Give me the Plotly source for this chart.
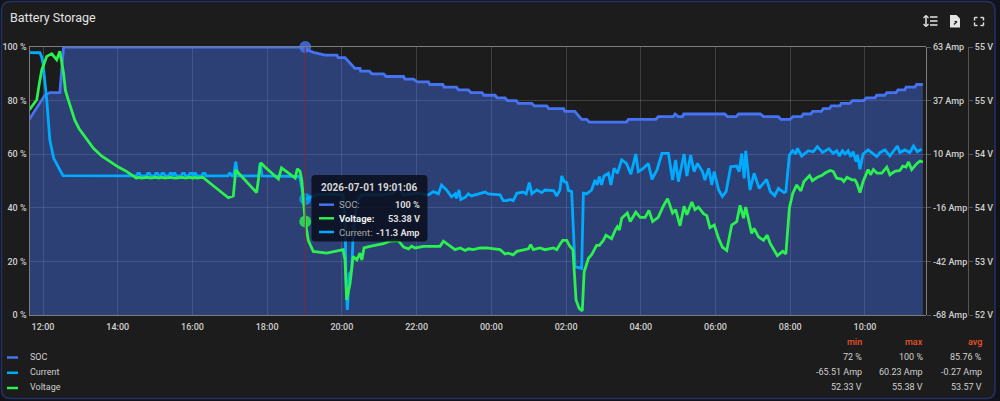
import pandas as pd
import plotly.graph_objects as go

W, H = 1000, 401
BASE = pd.Timestamp("2026-07-01 12:00:00")

# Each series: minutes after 12:00 on the first day, then the reading at that minute.
soc_minutes = [-22, -8, 3, 11, 27, 33, 421, 424, 434, 453, 472, 474, 485, 501, 509, 510, 524, 528, 547, 551, 579, 581,
               595, 601, 619, 621, 642, 644, 664, 667, 683, 687, 705, 708, 726, 729, 742, 746, 760, 763, 785, 789,
               809, 812, 836, 838, 854, 865, 873, 877, 937, 940, 984, 988, 1012, 1015, 1020, 1027, 1029, 1095, 1099,
               1113, 1117, 1152, 1157, 1181, 1185, 1200, 1204, 1218, 1221, 1233, 1236, 1250, 1253, 1263, 1266, 1280,
               1282, 1296, 1300, 1318, 1322, 1336, 1339, 1352, 1355, 1370, 1373, 1384, 1386, 1400, 1403, 1413]
soc_values = [73, 78, 82, 83, 83, 100, 100, 99, 98, 97, 97, 96, 96, 92, 92, 91, 91, 90, 90, 89, 89, 88,
              88, 87, 87, 86, 86, 85, 85, 84, 84, 83, 83, 82, 82, 81, 81, 80, 80, 79, 79, 78,
              78, 77, 77, 76, 76, 73, 73, 72, 72, 73, 73, 74, 74, 75, 74, 74, 75, 75, 74,
              74, 75, 75, 74, 74, 73, 73, 74, 74, 75, 75, 76, 76, 77, 77, 78, 78,
              79, 79, 80, 80, 81, 81, 82, 82, 83, 83, 84, 84, 85, 85, 86, 86]

current_minutes = [-22, -5, -2, 0, 6, 11, 17, 23, 27, 32, 150, 152, 155, 157, 166, 168, 171, 173, 179, 181, 184, 186,
                   189, 191, 194, 196, 202, 204, 206, 208, 210, 212, 214, 222, 224, 227, 229, 234, 236, 239, 241, 243,
                   245, 247, 255, 257, 260, 262, 297, 300, 303, 306, 309.5, 313, 346, 348.5, 352, 411,
                   412.7, 418, 421.1, 439, 461, 482, 485, 486.6, 488.7, 492, 495.7, 498, 501, 505, 512, 546, 562, 573,
                   578, 600, 619, 627, 635, 640, 648, 656, 662, 664, 668, 671, 678, 683, 688, 699, 710, 715, 734,
                   739, 745, 750, 755, 761, 771, 776, 781, 785, 793, 801, 806, 820, 825, 830, 833, 837, 841, 844,
                   849, 854.4, 865, 867.8, 873, 881, 886.5, 890, 893.5, 897, 901, 908, 912, 917, 922.4, 929.3, 937,
                   944, 952, 956, 964, 972, 978, 986, 994, 1004.3, 1011, 1016, 1020.3, 1029.5, 1034, 1040, 1045.5,
                   1051, 1059, 1063, 1069, 1074, 1078, 1085, 1091, 1097, 1104.4, 1114, 1118, 1122, 1126, 1128.5,
                   1135.4, 1142, 1150, 1162, 1168, 1175, 1181, 1190, 1193, 1198.6, 1204, 1209, 1211.4, 1218.4, 1224,
                   1229, 1237, 1243.6, 1252, 1262, 1269, 1274.6, 1279, 1283.7, 1288, 1293, 1297, 1301, 1305.6, 1308,
                   1312, 1317, 1325, 1333.5, 1339, 1344, 1352, 1360, 1367, 1372, 1376, 1384, 1392, 1398, 1404, 1411]
current_values = [60.23, 60.2, 58, 55, 37, 17.5, 8.7, 5, 2.9, 0.1, 0, 1.2, 1.2, 0, 0, 1.2, 1.2, 0, 0, 1.2, 1.2, 0,
                  0, 1.2, 1.2, 0, 0, 1.2, 1.2, 0, 1.2, 1.2, 0, 0, 1.2, 1.2, 0, 0, 1.2, 1.2, 0, 1.2,
                  1.2, 0, 0, 1.2, 1.2, 0, 0, 1.6, 0, 0, 6.9, 0, 0, 6.4, 0, -0.3,
                  -1.2, -10.2, -11.3, -9.3, -8.9, -9.3, -20, -49.2, -65.51, -48, -46, -29.7, -20, -11.8, -9.3, -9.3, -8.5, -3.6,
                  -9.3, -8.5, -9.3, -7.7, -8.8, -4.5, -6.9, -10.2, -8.8, -11, -6.9, -11.5, -10.5, -8.8, -9.8, -8.8, -7.9, -8.8, -9.3,
                  -12.1, -12.1, -11.5, -12.1, -8.5, -7.9, -8.8, -3.3, -8.8, -6.9, -8.2, -6.9, -7.2, -9.8, -6.9, -0.05, -2.8, -3.3, -7.2,
                  -7.7, -44.4, -45.2, -8.5, -8.8, -6.9, -2, -4.4, -0.4, -4.4, -0.05, 1.3, -4.4, 3.7, 1.3, 7.8, 6.1,
                  0.8, 10.7, 2.1, 3.7, 6.1, -1.7, 2.9, 11, 11, -2, 7.8, -2.8, 10.7, -0.05, 10.2, 2.1,
                  6.1, 2.1, -2, 3.7, -4.4, 2.1, -6.9, -10.1, -7.7, 4.5, 4.8, 2.1, 11, -1.2, 12.3,
                  -6.9, 1.3, -6.1, -1.7, -7.7, -9.7, -6.1, -8.2, -7.7, 10.2, 12.3, 10.7, 13.5, 9.7, 11,
                  12.3, 11.8, 14.3, 11.4, 13.3, 11, 12.3, 9.7, 12.3, 10.7, 12.3, 9.4, 11.8, 7, 10.2,
                  3.2, 10.7, 12.7, 10.7, 9.4, 11.4, 12.7, 9.7, 12.3, 14.6, 11.4, 12.7, 11.4, 14.6, 11.8, 13]

voltage_minutes = [-22, -10, -6, -2, 6, 14, 22, 27, 33, 36, 40.6, 46, 51, 58, 65, 73, 81, 94, 108, 121, 134, 150, 153, 158, 168, 173, 181,
                   186, 191, 196, 204, 212, 224, 229, 236, 241, 243, 247, 257, 260, 297.6, 305.6, 309.5, 343, 349.6,
                   356.5, 378, 383, 405, 408.4, 412.7, 415.5, 421.1, 426, 434, 455.5, 482, 485, 487.6, 493, 498, 504,
                   509, 512, 515.5, 525, 546.6, 557, 570.7, 579, 587, 592, 597.4, 611, 621.5, 637.6, 643, 653.6,
                   661.7, 670, 678, 683, 691, 702, 712.5, 734, 742, 747, 755, 761, 771, 779.5, 783, 787.5, 798, 806,
                   820, 825, 830, 834.6, 841, 846, 851, 856, 861, 866, 869, 876, 881, 889, 893.5, 900, 904, 913, 919,
                   922.4, 925.6, 929.3, 938.4, 943, 952, 959, 967, 973, 979, 988, 996, 1003, 1011, 1016, 1023, 1029.5,
                   1034, 1042, 1047, 1052.5, 1061, 1066, 1071, 1078, 1085, 1091, 1098, 1106, 1114, 1119.4, 1125,
                   1128.5, 1138, 1142, 1149, 1157, 1163, 1168, 1179.3, 1188, 1193, 1198.6, 1204, 1210.4, 1217, 1222,
                   1231, 1235.5, 1243.6, 1250.5, 1256, 1264, 1269, 1274.6, 1282.6, 1286, 1291, 1299, 1304, 1307, 1312,
                   1317, 1325, 1329, 1333.5, 1339, 1347, 1355, 1360, 1368, 1376, 1380.6, 1386, 1390, 1395, 1403, 1408.4, 1413]
voltage_values = [54.69, 54.81, 55.0, 55.16, 55.32, 55.35, 55.28, 55.38, 55.12, 54.92, 54.81, 54.67, 54.57, 54.47, 54.40, 54.31, 54.24, 54.15, 54.08, 54.02, 53.97, 53.89, 53.90, 53.89, 53.90, 53.89, 53.90,
                  53.89, 53.90, 53.89, 53.90, 53.89, 53.90, 53.89, 53.90, 53.89, 53.90, 53.89, 53.90, 53.88, 53.66, 53.68, 53.985, 53.72, 54.07,
                  54.02, 53.88, 54.01, 53.89, 54.0, 53.97, 53.87, 53.38, 53.16, 53.03, 53.01, 53.05, 52.93, 52.46, 52.65, 52.97, 52.93,
                  53.01, 52.93, 53.07, 53.09, 53.12, 53.15, 53.156, 53.08, 53.06, 53.09, 53.07, 53.09, 53.09, 53.09, 53.15, 53.09,
                  53.05, 53.07, 53.04, 53.06, 53.05, 53.07, 53.07, 53.05, 53.0, 53.01, 52.99, 53.03, 53.05, 53.06, 53.11, 53.05, 53.07, 53.05,
                  53.07, 53.05, 53.11, 53.16, 53.16, 53.09, 53.05, 52.46, 52.36, 52.33, 52.79, 52.95, 52.99, 53.1, 53.1, 53.16, 53.22, 53.18, 53.28,
                  53.32, 53.28, 53.42, 53.48, 53.38, 53.49, 53.43, 53.43, 53.51, 53.38, 53.43, 53.56, 53.65, 53.48, 53.52, 53.33, 53.56,
                  53.46, 53.61, 53.52, 53.55, 53.47, 53.45, 53.31, 53.34, 53.18, 53.08, 53.04, 53.34, 53.38, 53.57, 53.42,
                  53.55, 53.24, 53.3, 53.2, 53.16, 53.22, 53.12, 52.98, 53.03, 53.0, 53.54, 53.71, 53.81, 53.74, 53.85,
                  53.92, 53.86, 53.9, 53.92, 53.95, 53.98, 53.97, 53.89, 53.88, 53.85, 53.9, 53.87, 53.87, 53.83, 53.72,
                  53.85, 53.99, 53.93, 53.99, 53.95, 53.95, 54.02, 53.93, 53.97, 53.98, 54.03, 54.02, 54.08, 53.99, 54.06, 54.09, 54.08]

hour_ticks = [0, 120, 240, 360, 480, 600, 720, 840, 960, 1080, 1200, 1320]
soc_ticks = [0, 20, 40, 60, 80, 100]
soc_tick_text = ["0 %", "20 %", "40 %", "60 %", "80 %", "100 %"]
current_ticks = [-68, -41.8, -15.6, 10.6, 36.8, 63]
current_tick_text = ["-68 Amp", "-42 Amp", "-16 Amp", "10 Amp", "37 Amp", "63 Amp"]
voltage_ticks = [52.283, 52.912, 53.541, 54.171, 54.8, 55.43]
voltage_tick_text = ["52 V", "53 V", "54 V", "54 V", "55 V", "55 V"]

hover_minute = 421.1
hover_soc, hover_voltage, hover_current = 100, 53.38, -11.3

table_rows = [
    ("SOC", "72 %", "100 %", "85.76 %"),
    ("Current", "-65.51 Amp", "60.23 Amp", "-0.27 Amp"),
    ("Voltage", "52.33 V", "55.38 V", "53.57 V"),
]

SOC_COLOR = "#4573f2"
CURRENT_COLOR = "#00aaff"
VOLTAGE_COLOR = "#2bf04f"
TEXT = "#cfcfcf"
FONT = "Roboto"
LINE_WIDTH = 2.8


def stamp(minutes):
    return [(BASE + pd.Timedelta(minutes=float(m))).isoformat() for m in minutes]


def px(x):
    return x / W


def py(y):
    return 1 - y / H


def seg(x0, y0, x1, y1, color, width=1):
    return dict(type="line", xref="paper", yref="paper", x0=px(x0), x1=px(x1), y0=py(y0), y1=py(y1),
                line=dict(color=color, width=width), layer="above")


def poly(cmds):
    out = []
    for c in cmds:
        nums = []
        for i in range(1, len(c), 2):
            nums.append(f"{px(c[i]):.5f},{py(c[i + 1]):.5f}")
        out.append(c[0] + " ".join(nums))
    return " ".join(out)


def rounded(x0, y0, x1, y1, r):
    pts = [("M", x0 + r, y0), ("L", x1 - r, y0), ("Q", x1, y0, x1, y0 + r), ("L", x1, y1 - r),
           ("Q", x1, y1, x1 - r, y1), ("L", x0 + r, y1), ("Q", x0, y1, x0, y1 - r), ("L", x0, y0 + r),
           ("Q", x0, y0, x0 + r, y0)]
    return poly(pts) + " Z"


def label(x, y, text, size=9, color=TEXT, anchor="left", weight=400):
    return dict(xref="paper", yref="paper", x=px(x), y=py(y), text=text, showarrow=False, xanchor=anchor,
                yanchor="middle", align=anchor, borderpad=0,
                font=dict(family=FONT, size=size, color=color, weight=weight))


fig = go.Figure()
fig.add_trace(go.Scatter(name="SOC", x=stamp(soc_minutes), y=soc_values, mode="lines", fill="tozeroy",
                         fillcolor="rgba(69,115,240,0.42)", line=dict(color=SOC_COLOR, width=LINE_WIDTH),
                         hoverinfo="skip", yaxis="y"))
fig.add_trace(go.Scatter(name="Current", x=stamp(current_minutes), y=current_values, mode="lines",
                         line=dict(color=CURRENT_COLOR, width=LINE_WIDTH), hoverinfo="skip", yaxis="y2"))
fig.add_trace(go.Scatter(name="Voltage", x=stamp(voltage_minutes), y=voltage_values, mode="lines",
                         line=dict(color=VOLTAGE_COLOR, width=LINE_WIDTH), hoverinfo="skip", yaxis="y3"))

# Highlighted points under the crosshair
for value, axis, color in [(hover_soc, "y", SOC_COLOR), (hover_current, "y2", CURRENT_COLOR),
                           (hover_voltage, "y3", VOLTAGE_COLOR)]:
    fig.add_trace(go.Scatter(x=stamp([hover_minute]), y=[value], mode="markers", yaxis=axis, hoverinfo="skip",
                             marker=dict(size=12, color=color, opacity=0.8), cliponaxis=False, showlegend=False))

shapes = [
    dict(type="path", xref="paper", yref="paper", path=rounded(1.5, 1.5, 995, 398.5, 9), fillcolor="#1c1c1c",
         line=dict(color="#233264", width=1.5), layer="below"),
    dict(type="line", xref="x", yref="paper", x0=stamp([hover_minute])[0], x1=stamp([hover_minute])[0],
         y0=py(315), y1=py(47), line=dict(color="#7a2a46", width=1), layer="above"),
    dict(type="path", xref="paper", yref="paper", path=rounded(311.5, 175, 427.5, 241.5, 4),
         fillcolor="rgba(10,14,28,0.86)", line=dict(width=0), layer="above"),
    seg(319, 204.7, 334, 204.7, SOC_COLOR, 2.5),
    seg(319, 218.3, 334, 218.3, VOLTAGE_COLOR, 2.5),
    seg(319, 232, 334, 232, CURRENT_COLOR, 2.5),
    seg(7, 357.5, 18, 357.5, SOC_COLOR, 2.5),
    seg(7, 372.8, 18, 372.8, CURRENT_COLOR, 2.5),
    seg(7, 388, 18, 388, VOLTAGE_COLOR, 2.5),
]

# Toolbar icons
ICON = "#e4e4e4"
shapes += [seg(926, 16, 926, 26, ICON, 1.5), seg(923.5, 18, 926, 15.5, ICON, 1.2), seg(928.5, 18, 926, 15.5, ICON, 1.2),
           seg(923.5, 24, 926, 26.5, ICON, 1.2), seg(928.5, 24, 926, 26.5, ICON, 1.2),
           seg(930, 17, 937.5, 17, ICON, 1.5), seg(930, 21, 937.5, 21, ICON, 1.5), seg(930, 25, 937.5, 25, ICON, 1.5)]
shapes.append(dict(type="path", xref="paper", yref="paper", fillcolor=ICON, line=dict(width=0), layer="above",
                   path=poly([("M", 950, 15), ("L", 956.5, 15), ("L", 960, 18.5), ("L", 960, 27.5), ("L", 950, 27.5)]) + " Z"))
shapes.append(seg(954, 24.5, 957, 21.5, "#1c1c1c", 1.3))
shapes.append(seg(954.5, 21.5, 957, 21.5, "#1c1c1c", 1))
for cx, cy, dx, dy in [(974.5, 17.5, 1, 1), (983.5, 17.5, -1, 1), (974.5, 25.5, 1, -1), (983.5, 25.5, -1, -1)]:
    shapes.append(seg(cx, cy, cx + 3 * dx, cy, ICON, 1.4))
    shapes.append(seg(cx, cy, cx, cy + 3 * dy, ICON, 1.4))

annotations = [
    label(9, 18, "Battery Storage", size=12.5, color="#e2e2e2"),
    label(369.5, 187.7, "2026-07-01 19:01:06", size=10, anchor="center", weight=700, color="#d6d6d6"),
    label(338, 204.7, "SOC:", size=9.5, color="#a9a9a9"),
    label(338, 218.3, "Voltage:", size=9.5, weight=700, color="#f0f0f0"),
    label(338, 232, "Current:", size=9.5, color="#a9a9a9"),
    label(420.5, 204.7, f"{hover_soc} %", size=9.2, anchor="right", weight=700, color="#dcdcdc"),
    label(420.5, 218.3, f"{hover_voltage} V", size=9.2, anchor="right", weight=700, color="#dcdcdc"),
    label(420.5, 232, f"{hover_current} Amp", size=9.2, anchor="right", weight=700, color="#dcdcdc"),
    label(863, 342, "min", color="#e8532b", anchor="right", weight=500),
    label(924, 342, "max", color="#e8532b", anchor="right", weight=500),
    label(983, 342, "avg", color="#e8532b", anchor="right", weight=500),
]
for row_y, (name, lo, hi, avg) in zip([356.8, 372, 387.2], table_rows):
    annotations.append(label(29, row_y, name))
    annotations.append(label(863, row_y, lo, anchor="right"))
    annotations.append(label(924, row_y, hi, anchor="right"))
    annotations.append(label(983, row_y, avg, anchor="right"))

tick_font = dict(family=FONT, size=9, color=TEXT, weight=500)
GRID = "rgba(255,255,255,0.16)"
EDGE = "#7d7d7d"

fig.update_layout(
    width=W, height=H, autosize=False, margin=dict(l=0, r=0, t=0, b=0, autoexpand=False),
    paper_bgcolor="#12131a", plot_bgcolor="rgba(0,0,0,0)", showlegend=False, hovermode=False,
    shapes=shapes, annotations=annotations,
    xaxis=dict(domain=[px(29.5), px(926)], type="date", range=stamp([-21.7, 1418]), tickvals=stamp(hour_ticks),
               tickformat="%H:%M", showgrid=True, gridcolor=GRID, gridwidth=1, zeroline=False, ticks="", ticklen=0,
               tickfont=tick_font, showline=True, linecolor=EDGE, linewidth=1.2, mirror=True, anchor="y",
               ticklabelstandoff=3),
    yaxis=dict(domain=[py(315), py(47)], range=[0, 100], tickvals=soc_ticks, ticktext=soc_tick_text, showgrid=True,
               gridcolor=GRID, zeroline=False, tickfont=tick_font, showline=True, linecolor=EDGE, linewidth=1.2,
               ticks="", anchor="x"),
    yaxis2=dict(domain=[py(315), py(47)], range=[-68, 63], overlaying="y", side="right", anchor="free",
                position=px(926), tickvals=current_ticks, ticktext=current_tick_text, showgrid=False, zeroline=False,
                tickfont=tick_font, showline=True, linecolor=EDGE, linewidth=1.2, ticks="outside", ticklen=4,
                tickcolor="#555555", tickwidth=1),
    yaxis3=dict(domain=[py(315), py(47)], range=[52.283, 55.43], overlaying="y", side="right", anchor="free",
                position=px(968), tickvals=voltage_ticks, ticktext=voltage_tick_text, showgrid=False, zeroline=False,
                tickfont=tick_font, showline=True, linecolor="#555555", linewidth=1, ticks="outside", ticklen=4,
                tickcolor="#555555", tickwidth=1),
)

fig.write_html("out.html", config={"displayModeBar": False})
